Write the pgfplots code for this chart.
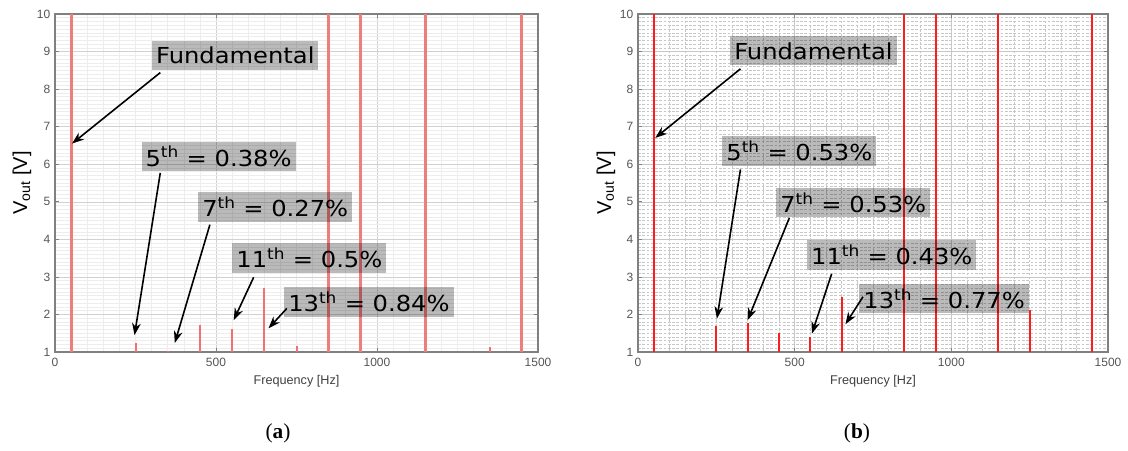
\documentclass[border=0pt]{standalone}
\usepackage{fontspec}
\setmainfont{Liberation Sans}
\newfontfamily\annot[FakeStretch=1.1]{DejaVu Sans}
\newfontfamily\capfont{Liberation Serif}
\usepackage{pgfplots}
\pgfplotsset{compat=1.18}
\usetikzlibrary{arrows.meta}
\definecolor{lred}{RGB}{238,125,125}
\definecolor{bred}{RGB}{250,30,30}
\definecolor{tickgray}{RGB}{85,85,85}
\tikzset{
  ann/.style={fill=black, fill opacity=0.27, text opacity=1, text=black, inner xsep=3pt, inner ysep=0pt, minimum height=22pt, font=\annot\fontsize{16.5}{18}\selectfont},
  arr/.style={-{Stealth[length=9pt,width=6.5pt]}, line width=1.2pt, black},
}
\pgfplotsset{
  common/.style={
    scale only axis, height=253.5pt,
    xmin=0, xmax=1500, ymin=1, ymax=10,
    xtick={0,500,1000,1500}, ytick={1,2,...,10},
    minor x tick num=9, minor y tick num=9,
    xmajorgrids, ymajorgrids, xminorgrids, yminorgrids,
    major grid style={color=black!18},
    axis line style={color=black!50, line width=0.8pt},
    major tick style={color=black!50, line width=0.5pt},
    major tick length=3pt, minor tick length=0pt,
    tick align=inside,
    /pgf/number format/assume math mode=true,
    /pgf/number format/1000 sep={},
    tick label style={font=\fontsize{9}{10}\selectfont, text=tickgray},
    xticklabel style={yshift=-1pt},
    xlabel={Frequency [Hz]},
    xlabel style={at={(axis description cs:0.5,-0.0858)}, anchor=center, font=\fontsize{9.5}{11}\selectfont, text=black!75},
    ylabel={V\textsubscript{out} [V]},
    ylabel style={at={(axis description cs:-0.0683,0.5)}, anchor=center, font=\fontsize{15}{16}\selectfont},
  },
}
\begin{document}
\begin{tikzpicture}
\useasboundingbox (-41.25pt,-73.5pt) rectangle (804.75pt,264pt);
% ---------------- (a) ----------------
\begin{axis}[common, width=362.25pt,
  minor grid style={color=black!7},
  at={(0pt,0pt)}, anchor=south west]
\addplot[ycomb, color=lred, line width=2.2pt, mark=none] coordinates {
 (50,12) (850,12) (950,12) (1150,12) (1450,12)};
\addplot[ycomb, color=lred!90!red, line width=1.5pt, mark=none] coordinates {
 (250,1.24) (350,1.03) (450,1.72) (550,1.6) (650,2.71) (750,1.15) (1350,1.13)};
\node[ann] at (axis cs:560,8.90) {Fundamental};
\draw[arr] (axis cs:327,8.44) -- (axis cs:53,6.55);
\node[ann] at (axis cs:508,6.21) {5\textsuperscript{th} = 0.38\%};
\draw[arr] (axis cs:327,5.77) -- (axis cs:247,1.45);
\node[ann] at (axis cs:684,4.86) {7\textsuperscript{th} = 0.27\%};
\draw[arr] (axis cs:481,4.39) -- (axis cs:372,1.24);
\node[ann] at (axis cs:790,3.50) {11\textsuperscript{th} = 0.5\%};
\draw[arr] (axis cs:617,2.99) -- (axis cs:555,1.85);
\node[ann] at (axis cs:975,2.33) {13\textsuperscript{th} = 0.84\%};
\draw[arr] (axis cs:720,2.16) -- (axis cs:663,1.63);
\end{axis}
\node[font=\capfont\fontsize{16}{18}\selectfont] at (167.25pt,-60.75pt) {(\textbf{a})};
% ---------------- (b) ----------------
\begin{axis}[common, width=352.5pt,
  minor grid style={color=black!22, dash pattern=on 2pt off 1.2pt},
  major grid style={color=black!22},
  at={(437.25pt,0pt)}, anchor=south west]
\addplot[ycomb, color=bred, line width=1.6pt, mark=none] coordinates {
 (50,12) (850,12) (950,12) (1150,12) (1450,12)};
\addplot[ycomb, color=bred, line width=1.5pt, mark=none] coordinates {
 (250,1.69) (350,1.76) (450,1.5) (550,1.39) (650,2.46) (1250,2.13)};
\node[ann] at (axis cs:560,9.02) {Fundamental};
\draw[arr] (axis cs:327,8.54) -- (axis cs:55,6.70);
\node[ann] at (axis cs:515,6.35) {5\textsuperscript{th} = 0.53\%};
\draw[arr] (axis cs:327,5.86) -- (axis cs:252,1.89);
\node[ann] at (axis cs:687,4.98) {7\textsuperscript{th} = 0.53\%};
\draw[arr] (axis cs:483,4.57) -- (axis cs:350,1.85);
\node[ann] at (axis cs:810,3.58) {11\textsuperscript{th} = 0.43\%};
\draw[arr] (axis cs:618,3.08) -- (axis cs:555,1.49);
\node[ann] at (axis cs:977,2.42) {13\textsuperscript{th} = 0.77\%};
\draw[arr] (axis cs:718,2.47) -- (axis cs:662,1.74);
\end{axis}
\node[font=\capfont\fontsize{16}{18}\selectfont] at (601.5pt,-60.75pt) {(\textbf{b})};
\end{tikzpicture}
\end{document}
